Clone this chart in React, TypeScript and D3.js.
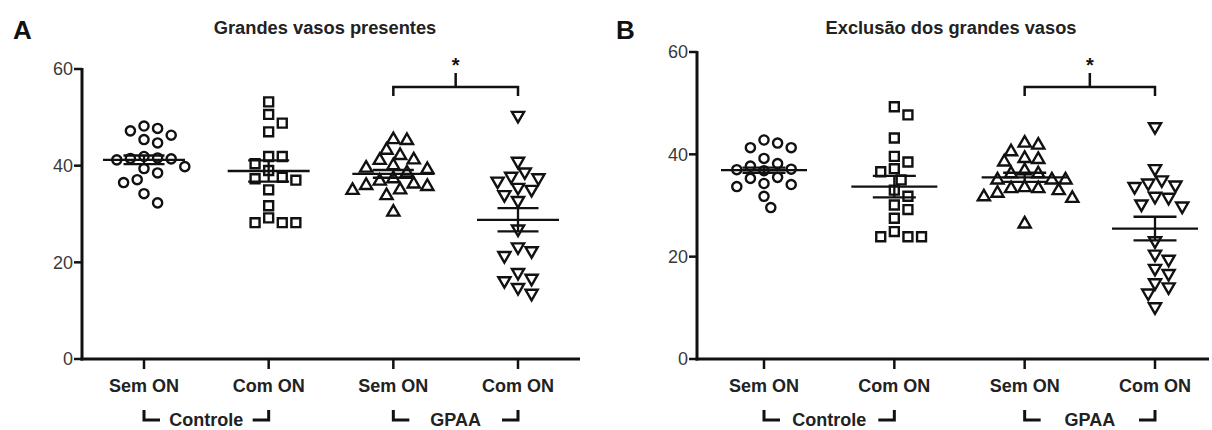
import React from 'react';
import * as d3 from 'd3';

// categories and groups
const cats = ['Sem ON', 'Com ON', 'Sem ON ', 'Com ON '];
const groups = ['Controle', 'GPAA'];
const yTicks = [0, 20, 40, 60];

// Panel A - grandes vasos presentes
const aSemCtrl = [48.2, 47.7, 47.2, 46.3, 45.4, 44.7, 41.9, 41.6, 41.5, 41.4, 41.2, 39.8, 39.4, 38.5, 37.1, 36.5, 34.2, 32.3];
const aComCtrl = [53.2, 50.6, 48.8, 47.0, 41.9, 41.9, 40.4, 39.0, 37.6, 37.3, 37.0, 35.0, 31.7, 29.2, 28.2, 28.2, 28.2];
const aSemGpaa = [45.4, 45.2, 43.2, 42.1, 41.2, 41.1, 40.0, 39.5, 39.2, 38.5, 37.3, 36.8, 36.2, 35.9, 35.7, 35.0, 34.9, 33.8, 30.4];
const aComGpaa = [50.4, 40.9, 38.7, 37.8, 37.5, 36.8, 35.5, 35.1, 34.0, 32.8, 26.9, 23.2, 22.4, 21.4, 17.9, 16.7, 16.2, 14.8, 13.6];
const aMeans = [41.2, 38.9, 38.3, 28.8];
const aSems = [0.9, 2.2, 0.8, 2.4];

// Panel B - exclusão dos grandes vasos
const bSemCtrl = [42.8, 42.2, 41.3, 41.3, 39.2, 38.2, 37.7, 37.1, 37.0, 36.8, 35.5, 35.3, 34.3, 34.1, 33.7, 31.8, 29.6];
const bComCtrl = [49.3, 47.7, 43.2, 39.6, 38.5, 37.2, 36.6, 35.0, 33.0, 31.8, 30.1, 29.2, 27.5, 24.9, 23.9, 23.9, 23.9];
const bSemGpaa = [42.2, 41.8, 40.5, 39.2, 39.0, 38.5, 36.8, 36.2, 36.2, 35.0, 35.0, 35.0, 33.5, 33.3, 33.3, 32.9, 32.4, 31.7, 31.4, 26.4];
const bComGpaa = [45.4, 37.2, 35.0, 34.4, 34.0, 33.7, 31.8, 31.6, 30.3, 29.9, 23.1, 20.5, 19.5, 17.7, 16.7, 14.9, 14.1, 12.9, 10.2];
const bMeans = [36.9, 33.7, 35.5, 25.5];
const bSems = [0.5, 2.1, 0.9, 2.3];

const symbols = [d3.symbolCircle, d3.symbolSquare, d3.symbolTriangle, d3.symbolTriangle];
const symSizes = [66, 80, 64, 64];

// simple beeswarm: spread points sideways when they overlap
function swarm(values: number[], cx: number, y: (v: number) => number, step: number, minDist: number) {
  const pts = values.map(v => ({ v, y: y(v), x: cx })).sort((a, b) => a.y - b.y);
  const placed: { x: number; y: number }[] = [];
  for (const p of pts) {
    for (let i = 0; i < 40; i++) {
      const k = i === 0 ? 0 : (i % 2 ? 1 : -1) * Math.ceil(i / 2);
      const x = cx + k * step;
      if (placed.every(q => Math.hypot(q.x - x, q.y - p.y) >= minDist)) {
        p.x = x;
        placed.push(p);
        break;
      }
    }
  }
  return pts;
}

const Panel = ({ letter, title, titleX, data, means, sems, axisLeft, axisRight, xFirst, xLast, yTop, meanW, letterX }) => {
  const yBottom = 359;
  const y = d3.scaleLinear().domain([0, 60]).range([yBottom, yTop]);
  const x = d3.scalePoint().domain(cats).range([xFirst, xLast]);
  const font = '"Liberation Sans", Arial, sans-serif';
  const semW = meanW / 2;

  return (
    <g>
      <text x={letterX} y={39} fontFamily={font} fontWeight="bold" fontSize={26} fill="#111">{letter}</text>
      <text x={titleX} y={34} textAnchor="middle" fontFamily={font} fontWeight="bold" fontSize={18.3} fill="#222">{title}</text>

      {/* points */}
      {data.map((vals, ci) => {
        const sym = d3.symbol().type(symbols[ci]).size(symSizes[ci]);
        const pts = swarm(vals, x(cats[ci]), y, 6.8, 12);
        return pts.map((p, i) => (
          <path key={ci + '-' + i} d={sym()}
            transform={`translate(${p.x},${p.y})${ci === 3 ? ' rotate(180)' : ''}`}
            fill="none" stroke="#111" strokeWidth={2.4} />
        ));
      })}

      {/* mean and SEM */}
      {means.map((m, ci) => {
        const cx = x(cats[ci]);
        const hi = y(m + sems[ci]);
        const lo = y(m - sems[ci]);
        return (
          <g key={'m' + ci} stroke="#111" strokeWidth={2.3}>
            <line x1={cx - meanW / 2} x2={cx + meanW / 2} y1={y(m)} y2={y(m)} />
            <line x1={cx} x2={cx} y1={hi} y2={lo} />
            <line x1={cx - semW / 2} x2={cx + semW / 2} y1={hi} y2={hi} />
            <line x1={cx - semW / 2} x2={cx + semW / 2} y1={lo} y2={lo} />
          </g>
        );
      })}

      {/* axes */}
      <line x1={axisLeft} x2={axisLeft} y1={yTop - 1} y2={yBottom + 1.5} stroke="#111" strokeWidth={3} />
      <line x1={axisLeft - 1.5} x2={axisRight} y1={yBottom} y2={yBottom} stroke="#111" strokeWidth={3} />
      {yTicks.map(t => (
        <g key={'t' + t}>
          <line x1={axisLeft - 8} x2={axisLeft} y1={y(t)} y2={y(t)} stroke="#111" strokeWidth={2.5} />
          <text x={axisLeft - 9} y={y(t)} dy="0.36em" textAnchor="end"
            fontFamily='"Liberation Sans Narrow", "Liberation Sans", sans-serif' fontSize={18} fill="#3a3a3a">{t}</text>
        </g>
      ))}
      {cats.map(c => (
        <g key={'c' + c}>
          <line x1={x(c)} x2={x(c)} y1={yBottom} y2={yBottom + 10} stroke="#111" strokeWidth={2.5} />
          <text x={x(c)} y={392} textAnchor="middle" fontFamily={font} fontWeight="bold" fontSize={18} fill="#222">{c.trim()}</text>
        </g>
      ))}

      {/* group brackets */}
      {groups.map((g, gi) => {
        const x0 = x(cats[gi * 2]);
        const x1 = x(cats[gi * 2 + 1]);
        return (
          <g key={'g' + g}>
            <path d={`M${x0},410 V420 H${x0 + 16} M${x1},410 V420 H${x1 - 16}`} fill="none" stroke="#111" strokeWidth={3} />
            <text x={(x0 + x1) / 2} y={426} textAnchor="middle" fontFamily={font} fontWeight="bold" fontSize={18} fill="#222">{g}</text>
          </g>
        );
      })}

      {/* significance */}
      {(() => {
        const x0 = x(cats[2]);
        const x1 = x(cats[3]);
        const xm = (x0 + x1) / 2;
        return (
          <g>
            <path d={`M${x0},96 V87 H${x1} V96 M${xm},87 V73`} fill="none" stroke="#111" strokeWidth={2.5} />
            <text x={xm} y={72} textAnchor="middle" fontFamily={font} fontWeight="bold" fontSize={20} fill="#111">*</text>
          </g>
        );
      })()}
    </g>
  );
};

export default function App() {
  return (
    <svg width={1212} height={430} style={{ position: 'absolute', left: 0, top: 0, background: '#fff' }}>
      <rect x={0} y={0} width={1212} height={430} fill="#fff" />
      <Panel letter="A" letterX={13} title="Grandes vasos presentes" titleX={325}
        data={[aSemCtrl, aComCtrl, aSemGpaa, aComGpaa]} means={aMeans} sems={aSems}
        axisLeft={82} axisRight={580} xFirst={144} xLast={518} yTop={69} meanW={82} />
      <Panel letter="B" letterX={616} title="Exclusão dos grandes vasos" titleX={951}
        data={[bSemCtrl, bComCtrl, bSemGpaa, bComGpaa]} means={bMeans} sems={bSems}
        axisLeft={697} axisRight={1209} xFirst={764} xLast={1155} yTop={52} meanW={86} />
    </svg>
  );
}
